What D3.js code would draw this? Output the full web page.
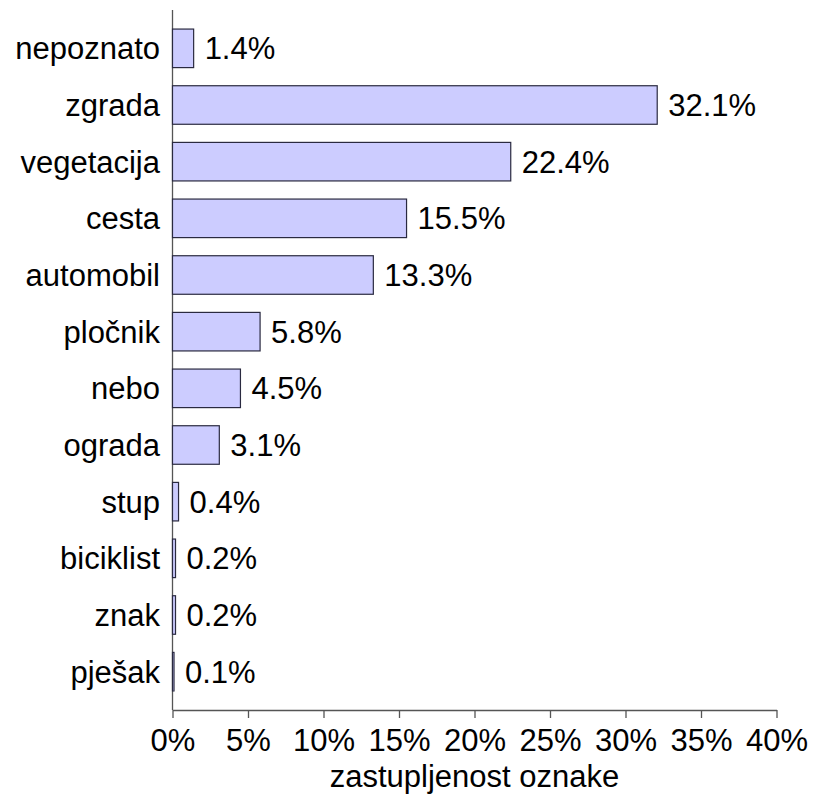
<!DOCTYPE html>
<html><head><meta charset="utf-8">
<script src="https://cdn.jsdelivr.net/npm/d3@7"></script>
<style>body{margin:0;background:#fff;}svg{display:block;font-family:"Liberation Sans",Arial,Helvetica,sans-serif;}</style>
</head><body>
<svg id="c" width="814" height="800"></svg>
<script>
const categories = ["nepoznato","zgrada","vegetacija","cesta","automobil","pločnik","nebo","ograda","stup","biciklist","znak","pješak"];
const values = [1.4,32.1,22.4,15.5,13.3,5.8,4.5,3.1,0.4,0.2,0.2,0.1];
const xTicks = [0,5,10,15,20,25,30,35,40];
const xTitle = "zastupljenost oznake";
const FS = 31;

const svg = d3.select("#c");
const x = d3.scaleLinear().domain([0,40]).range([172.5,776.5]);
const y = d3.scaleBand().domain(categories).range([20,700]).paddingInner(0.32).paddingOuter(0.16);

// y axis line
svg.append("line").attr("x1",x(0)).attr("x2",x(0)).attr("y1",10).attr("y2",710)
  .attr("stroke","#555").attr("stroke-width",1.3);

// x axis
const xa = svg.append("g").attr("transform","translate(0,710)")
  .call(d3.axisBottom(x).tickValues(xTicks).tickFormat(d=>d+"%").tickSize(8).tickSizeOuter(0));
xa.attr("font-family",null);
xa.select(".domain").attr("stroke","#555").attr("stroke-width",1.3);
xa.selectAll(".tick line").attr("stroke","#555").attr("stroke-width",1.3);
xa.selectAll(".tick text").attr("font-size",FS).attr("fill","#000").attr("y",41).attr("dy",null);

svg.append("text").attr("x",(x(0)+x(40))/2).attr("y",787).attr("text-anchor","middle")
  .attr("font-size",FS).attr("fill","#000").text(xTitle);

const rows = svg.selectAll("g.row").data(categories.map((c,i)=>({c,v:values[i]}))).enter().append("g");
rows.append("rect").attr("x",x(0)).attr("y",d=>y(d.c)).attr("width",d=>x(d.v)-x(0)).attr("height",y.bandwidth())
  .attr("fill","#ccccff").attr("stroke","#2a2a40").attr("stroke-width",1.2);
rows.append("text").attr("x",d=>x(d.v)+11).attr("y",d=>y(d.c)+y.bandwidth()/2).attr("dy","0.36em")
  .attr("font-size",FS).attr("fill","#000").text(d=>d.v.toFixed(1)+"%");
rows.append("text").attr("x",160).attr("y",d=>y(d.c)+y.bandwidth()/2).attr("dy","0.36em")
  .attr("text-anchor","end").attr("font-size",FS).attr("fill","#000").text(d=>d.c);
</script>
</body></html>
